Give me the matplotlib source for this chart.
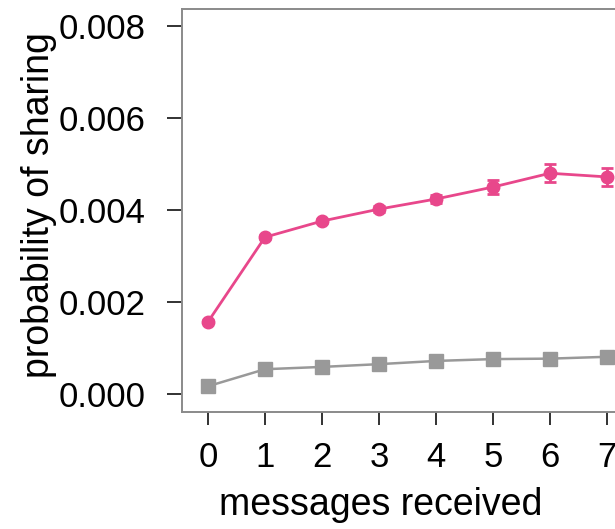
import matplotlib
matplotlib.use("Agg")
import matplotlib.pyplot as plt

# data
messages = [0, 1, 2, 3, 4, 5, 6, 7]
pink_prob = [0.00157, 0.00341, 0.00376, 0.00402, 0.00424, 0.00450, 0.00480, 0.00472]
pink_err = [0.00003, 0.00004, 0.00005, 0.00006, 0.00008, 0.00016, 0.00020, 0.00020]
gray_prob = [0.00017, 0.00054, 0.00059, 0.00065, 0.00072, 0.00076, 0.00077, 0.00081]
y_ticks = [0.000, 0.002, 0.004, 0.006, 0.008]

plt.rcParams['font.family'] = ['Liberation Sans', 'DejaVu Sans']

W, H = 615, 529
fig = plt.figure(figsize=(W / 100, H / 100), dpi=100)

# axes runs off the right edge, like the cropped original
left_px, top_px, bottom_px = 182, 9, 412
x_left, x_right = -0.456, 7.8
width_px = 57 * (x_right - x_left)
ax = fig.add_axes([left_px / W, 1 - bottom_px / H, width_px / W, (bottom_px - top_px) / H])

ax.plot(messages, gray_prob, color='#999999', lw=1.8, marker='s', ms=9.5, zorder=2)
ax.errorbar(messages, pink_prob, yerr=pink_err, color='#e8478b', lw=2,
            marker='o', ms=9, capsize=4.5, elinewidth=2, capthick=2, zorder=3)

ax.set_xlim(x_left, x_right)
ax.set_ylim(-0.00039, 0.00837)
ax.set_xticks(messages)
ax.set_yticks(y_ticks)
ax.set_yticklabels([f"{v:.3f}" for v in y_ticks])

for s in ax.spines.values():
    s.set_color('#8a8a8a')
    s.set_linewidth(1.4)

ax.tick_params(axis='y', direction='out', length=11, width=1.3, color='#222222',
               labelsize=25, pad=15)
ax.tick_params(axis='x', direction='out', length=9, width=1.3, color='#222222',
               labelsize=25, pad=12)

ax.set_xlabel("messages received", fontsize=27)
ax.xaxis.set_label_coords(381 / W, 1 - 505 / H, transform=fig.transFigure)
ax.xaxis.label.set_va('center')

ax.set_ylabel("probability of sharing", fontsize=27)
ax.yaxis.set_label_coords(39 / W, 1 - 205 / H, transform=fig.transFigure)
ax.yaxis.label.set_va('center')

fig.savefig("out.png", dpi=100)
